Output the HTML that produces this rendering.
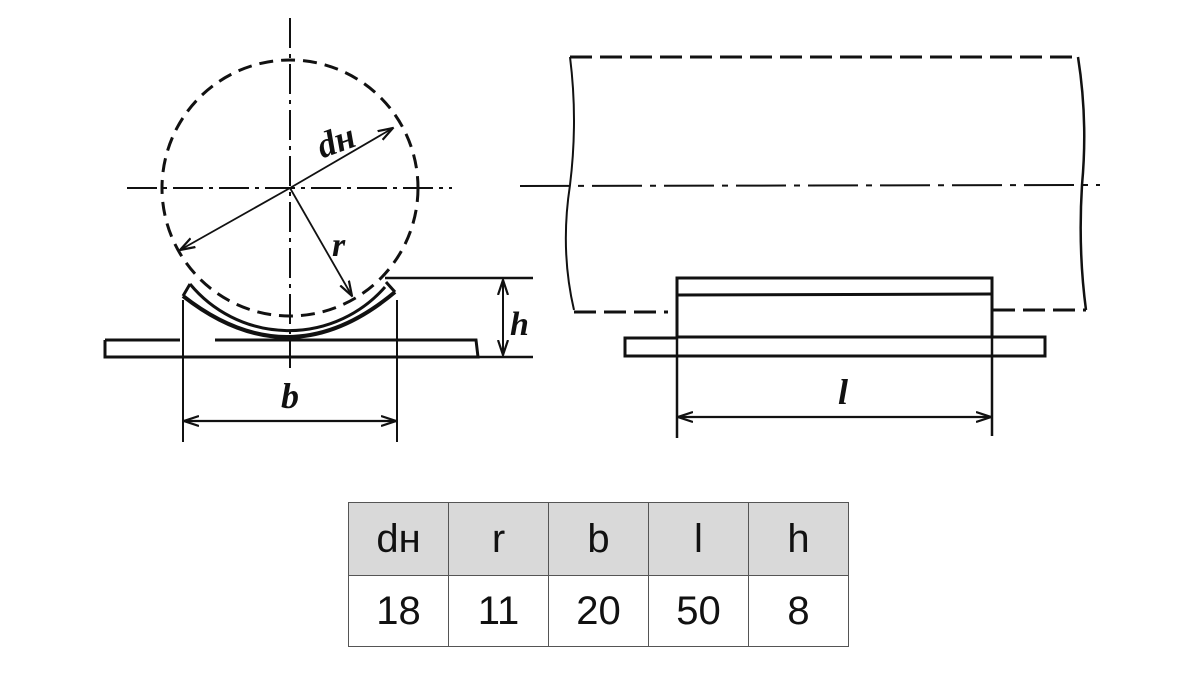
<!DOCTYPE html>
<html><head><style>
body{margin:0;background:#fff;width:1200px;height:691px;overflow:hidden;position:relative;font-family:"Liberation Sans",sans-serif}
table{position:absolute;left:348px;top:502px;border-collapse:collapse}
td{width:99px;height:70px;border:1.5px solid #555;text-align:center;font-size:40px;color:#111;padding:0}
tr:first-child td{background:#d9d9d9;height:72px}
</style></head><body>
<svg width="1200" height="691" style="position:absolute;left:0;top:0" fill="none" stroke="#111">
<defs><marker id="a" markerWidth="16" markerHeight="12" refX="15" refY="6" orient="auto-start-reverse" markerUnits="userSpaceOnUse"><path d="M0,1 L15,6 L0,11" stroke="#111" stroke-width="2.2" fill="none"/></marker></defs>
<!-- left view -->
<circle cx="290" cy="188" r="128" stroke-width="3" stroke-dasharray="14,8"/>
<line x1="290" y1="18" x2="290" y2="368" stroke-width="2" stroke-dasharray="30,6,4,6"/>
<line x1="127" y1="188" x2="452" y2="188" stroke-width="2" stroke-dasharray="30,6,4,6"/>
<line x1="290" y1="188" x2="393" y2="128" stroke-width="1.8" marker-end="url(#a)"/>
<line x1="290" y1="188" x2="180" y2="250" stroke-width="1.8" marker-end="url(#a)"/>
<line x1="290" y1="188" x2="352" y2="296" stroke-width="1.8" marker-end="url(#a)"/>
<path d="M190,284 A128,128 0 0 0 385,287" stroke-width="3"/>
<path d="M183,296 Q290,380 395,292" stroke-width="4"/>
<path d="M183,296 L190,284 M395,292 L386,282" stroke-width="3"/>
<path d="M105,340 L180,340 M215,340 L476,340 L478,357 L105,357 L105,340" stroke-width="3"/>
<line x1="385" y1="278" x2="533" y2="278" stroke-width="2.5"/>
<line x1="478" y1="357" x2="533" y2="357" stroke-width="2.5"/>
<line x1="503" y1="280" x2="503" y2="355" stroke-width="2" marker-start="url(#a)" marker-end="url(#a)"/>
<line x1="183" y1="300" x2="183" y2="442" stroke-width="2"/>
<line x1="397" y1="300" x2="397" y2="442" stroke-width="2"/>
<line x1="184" y1="421" x2="396" y2="421" stroke-width="2.2" marker-start="url(#a)" marker-end="url(#a)"/>
<!-- right view -->
<path d="M570,57 L1078,57" stroke-width="3" stroke-dasharray="22,8"/>
<path d="M570,57 Q578,120 570,185 Q560,250 574,310" stroke-width="2"/>
<path d="M1078,57 Q1088,120 1082,185 Q1078,250 1086,310" stroke-width="2.5"/>
<path d="M574,312 L668,312" stroke-width="3" stroke-dasharray="22,8"/>
<path d="M993,310 L1086,310" stroke-width="3" stroke-dasharray="22,8"/>
<line x1="520" y1="186" x2="1100" y2="185" stroke-width="2" stroke-dasharray="50,8,6,8"/>
<rect x="677" y="278" width="315" height="59" stroke-width="3"/>
<line x1="677" y1="295" x2="992" y2="294" stroke-width="3"/>
<path d="M677,338 L625,338 L625,356 L1045,356 L1045,337 L992,337" stroke-width="3"/>
<line x1="677" y1="337" x2="677" y2="438" stroke-width="2.5"/>
<line x1="992" y1="337" x2="992" y2="436" stroke-width="2.5"/>
<line x1="678" y1="417" x2="991" y2="417" stroke-width="2.2" marker-start="url(#a)" marker-end="url(#a)"/>
<g fill="#111" stroke="none" font-family="Liberation Serif,serif" font-style="italic" font-weight="bold">
<text x="318" y="155" font-size="36" transform="rotate(-20 330 145)">dн</text>
<text x="332" y="256" font-size="34">r</text>
<text x="510" y="335" font-size="34">h</text>
<text x="281" y="408" font-size="36">b</text>
<text x="838" y="404" font-size="36">l</text>
</g>
</svg>
<table>
<tr><td>dн</td><td>r</td><td>b</td><td>l</td><td>h</td></tr>
<tr><td>18</td><td>11</td><td>20</td><td>50</td><td>8</td></tr>
</table>
</body></html>
